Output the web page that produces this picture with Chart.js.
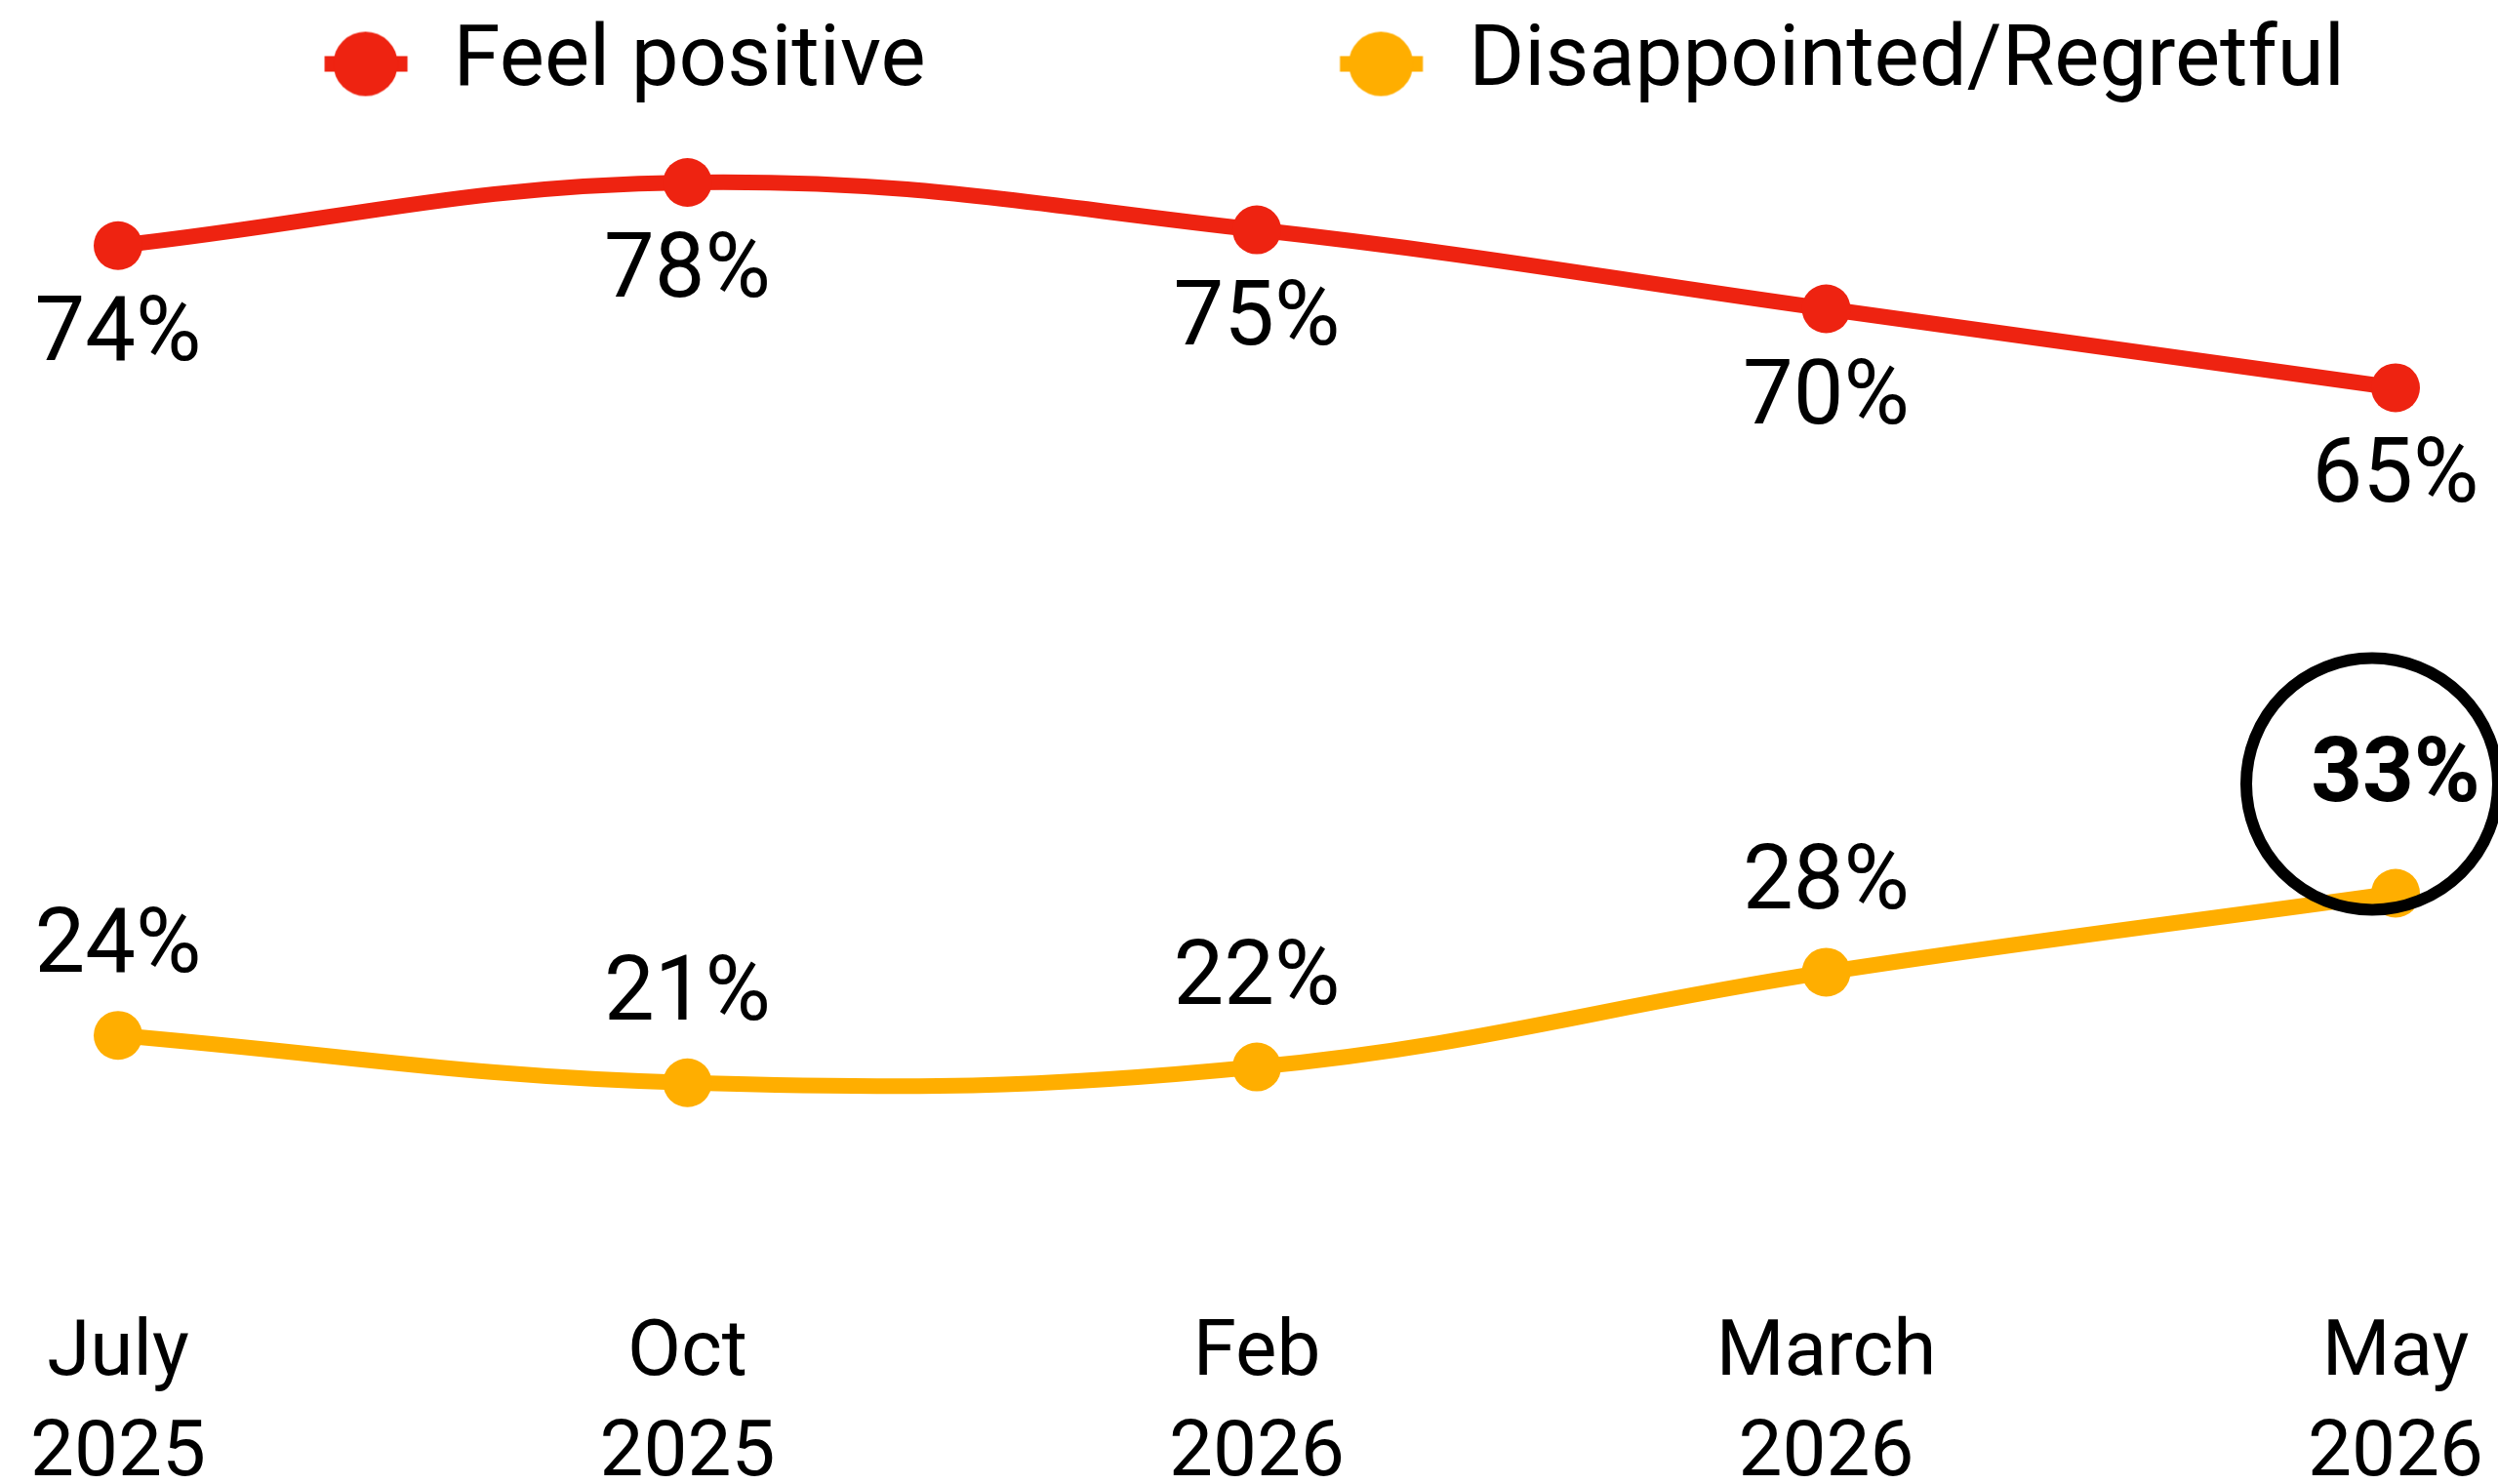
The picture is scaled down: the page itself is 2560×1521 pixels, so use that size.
<!DOCTYPE html>
<html>
<head>
<meta charset="utf-8">
<script src="https://cdn.jsdelivr.net/npm/chart.js@4/dist/chart.umd.min.js"></script>
<style>
  html, body { margin: 0; padding: 0; background: #fff; }
  #wrap { width: 2560px; height: 1521px; position: relative; }
</style>
</head>
<body>
<div id="wrap"><canvas id="trend-chart"></canvas></div>
<script>
const months = ['July', 'Oct', 'Feb', 'March', 'May'];
const years = ['2025', '2025', '2026', '2026', '2026'];
const feelPositive = [74, 78, 75, 70, 65];
const disappointed = [24, 21, 22, 28, 33];
const seriesNames = ['Feel positive', 'Disappointed/Regretful'];
const highlightIndex = 4; // circled value on the second series

const RED = '#EE2311';
const YELLOW = '#FFAE00';

Chart.defaults.font.family = 'Roboto';
Chart.defaults.color = '#000';

// legend spacing: measure first label so the two entries land where the original has them
const legendFont = 87;
const legendPad = 11;
const measure = document.createElement('canvas').getContext('2d');
measure.font = legendFont + 'px Roboto';
const tw1 = measure.measureText(seriesNames[0]).width;
const legendLeft = tw1 - 576;
const boxW = Math.round(465 - legendLeft - legendPad - legendFont / 2);

function makeMarker(color) {
    const c = document.createElement('canvas');
    c.width = boxW;
    c.height = 70;
    const g = c.getContext('2d');
    const cx = boxW + legendFont / 2 - 90;
    g.fillStyle = color;
    g.fillRect(cx - 42, 35 - 8, 85, 16);
    g.beginPath();
    g.arc(cx, 35, 33, 0, Math.PI * 2);
    g.fill();
    return c;
}
const markers = [makeMarker(RED), makeMarker(YELLOW)];

const valueLabels = {
    id: 'valueLabels',
    afterDatasetsDraw(chart) {
        const ctx = chart.ctx;
        ctx.save();
        ctx.textAlign = 'center';
        ctx.textBaseline = 'middle';
        ctx.fillStyle = '#000';
        chart.data.datasets.forEach((ds, i) => {
            const meta = chart.getDatasetMeta(i);
            meta.data.forEach((pt, j) => {
                const hot = i === 1 && j === highlightIndex;
                ctx.font = (hot ? 'bold ' : '') + '92px Roboto';
                const dy = hot ? -118 : (i === 0 ? 94 : -88);
                ctx.fillText(ds.data[j] + '%', pt.x, pt.y + dy);
                if (hot) {
                    ctx.beginPath();
                    ctx.arc(pt.x - 24, pt.y - 112, 129, 0, Math.PI * 2);
                    ctx.lineWidth = 12;
                    ctx.strokeStyle = '#000';
                    ctx.stroke();
                }
            });
        });
        ctx.restore();
    }
};

const lineStyle = (color) => ({
    borderColor: color,
    backgroundColor: color,
    pointBackgroundColor: color,
    borderWidth: 16,
    pointRadius: 25,
    pointHoverRadius: 25,
    pointBorderWidth: 0,
    tension: 0.4,
    clip: false
});

new Chart(document.getElementById('trend-chart'), {
    type: 'line',
    data: {
        labels: months.map((m, i) => [m, years[i]]),
        datasets: [
            { label: seriesNames[0], data: feelPositive, ...lineStyle(RED) },
            { label: seriesNames[1], data: disappointed, ...lineStyle(YELLOW) }
        ]
    },
    options: {
        responsive: true,
        maintainAspectRatio: false,
        animation: false,
        layout: { padding: { left: legendLeft, right: 105, top: 11, bottom: -22 } },
        scales: {
            x: {
                offset: false,
                grid: { display: false, drawTicks: false },
                border: { display: false },
                ticks: {
                    font: { size: 80, lineHeight: 1.28 },
                    color: '#000',
                    padding: 0,
                    maxRotation: 0,
                    autoSkip: false
                }
            },
            y: {
                min: 6.89,
                max: 82.2,
                grid: { display: false, drawTicks: false },
                border: { display: false },
                ticks: { display: false },
                afterFit(scale) { scale.width = 121 - legendLeft; }
            }
        },
        plugins: {
            tooltip: { enabled: false },
            legend: {
                position: 'top',
                align: 'start',
                labels: {
                    usePointStyle: true,
                    pointStyleWidth: boxW,
                    padding: legendPad,
                    color: '#000',
                    font: { size: legendFont },
                    generateLabels(chart) {
                        const items = Chart.defaults.plugins.legend.labels.generateLabels(chart);
                        items.forEach((it, i) => { it.pointStyle = markers[i]; });
                        return items;
                    }
                }
            }
        }
    },
    plugins: [valueLabels]
});
</script>
</body>
</html>
